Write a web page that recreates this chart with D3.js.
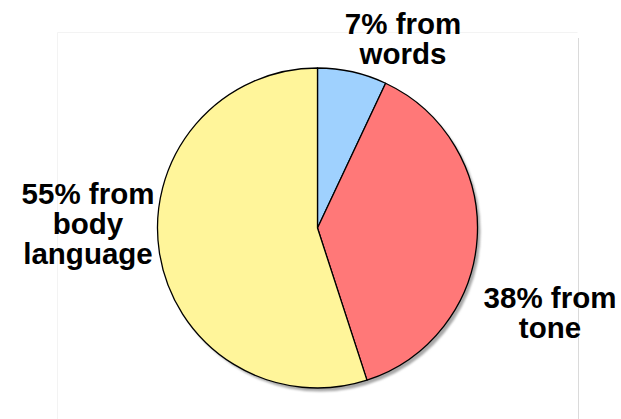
<!DOCTYPE html>
<html>
<head>
<meta charset="utf-8">
<script src="https://cdn.jsdelivr.net/npm/d3@7"></script>
<style>
  html, body { margin: 0; padding: 0; background: #ffffff; }
  svg { display: block; }
  .pie-label { font-family: "Liberation Sans", Arial, Helvetica, sans-serif; font-weight: bold; font-size: 29.5px; fill: #000; }
</style>
</head>
<body>
<div id="PieChart-div"></div>
<script>
// Data (clockwise from 12 o'clock)
const categories = ["words", "tone", "body language"];
const shares = [7, 38, 55];
const labelLines = [
  ["7% from", "words"],
  ["38% from", "tone"],
  ["55% from", "body", "language"]
];
const sliceColors = ["#9fd1fe", "#ff7878", "#fff59a"];

// Chart constants
const WIDTH = 621;
const HEIGHT = 419;
const CENTER = { x: 317.5, y: 228 };
const RADIUS = 160;
const LINE_HEIGHT = 30;
// label anchor (x centre, first baseline) for each slice
const LABEL_POS = [
  { x: 403, y: 34 },
  { x: 550, y: 308 },
  { x: 88, y: 204 }
];

const svg = d3
  .select("#PieChart-div")
  .append("svg")
  .attr("width", WIDTH)
  .attr("height", HEIGHT);

// faint frame behind the chart
const frame = svg.append("g").attr("class", "frame");
frame.append("line")
  .attr("x1", 57.5).attr("x2", 577.5).attr("y1", 32.5).attr("y2", 32.5)
  .attr("stroke", "#f3f3f3");
frame.append("line")
  .attr("x1", 57.5).attr("x2", 57.5).attr("y1", 32.5).attr("y2", HEIGHT)
  .attr("stroke", "#f3f3f3");
frame.append("line")
  .attr("x1", 578.5).attr("x2", 578.5).attr("y1", 38).attr("y2", HEIGHT)
  .attr("stroke", "#dadada");

// shadow
const defs = svg.append("defs");
defs.append("filter")
  .attr("id", "blur")
  .attr("x", "-10%").attr("y", "-10%").attr("width", "120%").attr("height", "120%")
  .append("feGaussianBlur")
  .attr("stdDeviation", 1);

const pieG = svg.append("g")
  .attr("transform", "translate(" + CENTER.x + "," + CENTER.y + ")");

pieG.append("circle")
  .attr("cx", 3)
  .attr("cy", 3.5)
  .attr("r", RADIUS)
  .attr("fill", "#a8a8a8")
  .attr("filter", "url(#blur)");

const pie = d3.pie().sort(null).value(d => d);
const arc = d3.arc().innerRadius(0).outerRadius(RADIUS);

pieG.selectAll(".slice")
  .data(pie(shares))
  .enter()
  .append("path")
  .attr("class", "slice")
  .attr("d", arc)
  .attr("fill", (d, i) => sliceColors[i])
  .attr("stroke", "#000")
  .attr("stroke-width", 1.3)
  .attr("stroke-linejoin", "round");

// Labels
const labels = svg.selectAll(".pie-label")
  .data(categories)
  .enter()
  .append("text")
  .attr("class", "pie-label")
  .attr("text-anchor", "middle")
  .attr("x", (d, i) => LABEL_POS[i].x)
  .attr("y", (d, i) => LABEL_POS[i].y);

labels.each(function (d, i) {
  const t = d3.select(this);
  labelLines[i].forEach((line, j) => {
    t.append("tspan")
      .attr("x", LABEL_POS[i].x)
      .attr("dy", j === 0 ? 0 : LINE_HEIGHT)
      .text(line);
  });
});
</script>
</body>
</html>
